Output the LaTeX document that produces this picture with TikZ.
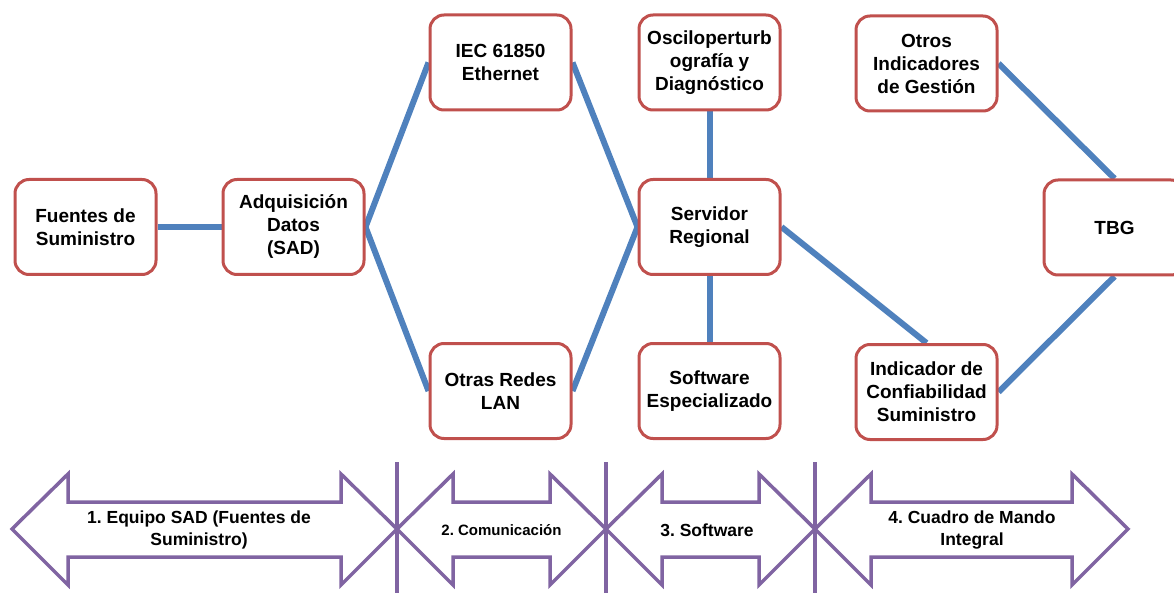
\documentclass[tikz,border=0pt]{standalone}
\usepackage{fontspec}
\setmainfont{Liberation Sans}
\usetikzlibrary{backgrounds}
\frenchspacing
\definecolor{boxred}{HTML}{C0504D}
\definecolor{linkblue}{HTML}{4F81BD}
\definecolor{bandpurple}{HTML}{8064A2}
% double-headed band arrow between two x positions, centred on y = 529
\newcommand\bandarrow[2]{%
  \draw[band] (#1,529) -- (#1+56,474) -- (#1+56,502) -- (#2-56,502) -- (#2-56,474)
    -- (#2,529) -- (#2-56,585) -- (#2-56,557) -- (#1+56,557) -- (#1+56,585) -- cycle;}
\begin{document}
\begin{tikzpicture}[x=1pt,y=-1pt,
  box/.style={draw=boxred, line width=3pt, fill=white, rounded corners=14pt,
    minimum width=141pt, minimum height=95pt, align=center, inner sep=2pt,
    font=\fontsize{19}{23}\selectfont\bfseries},
  link/.style={draw=linkblue, line width=6pt},
  band/.style={draw=bandpurple, line width=3.5pt, fill=white, line join=miter},
  divider/.style={draw=bandpurple, line width=4pt},
  bandtext/.style={align=center, inner sep=0pt, font=\fontsize{17.5}{22}\selectfont\bfseries}]
\clip (0,0) rectangle (1174,593);
\useasboundingbox (0,0) rectangle (1174,593);

% blocks
\node[box] (fuentes) at (85.5,227) {Fuentes de\\Suministro};
\node[box] (adq) at (293.5,227) {Adquisición\\Datos\\(SAD)};
\node[box] (iec) at (500.5,62.5) {IEC 61850\\Ethernet};
\node[box] (lan) at (500.5,391) {Otras Redes\\LAN};
\node[box] (osc) at (709.5,62.5) {Osciloperturb\\ografía y\\Diagnóstico};
\node[box] (serv) at (709.5,227) {Servidor\\Regional};
\node[box] (soft) at (709.5,391) {Software\\Especializado};
\node[box] (otros) at (926.5,63.5) {Otros\\Indicadores\\de Gestión};
\node[box] (tbg) at (1114.5,227.5) {TBG};
\node[box] (conf) at (926.5,392) {Indicador de\\Confiabilidad\\Suministro};

% links behind the blocks
\begin{scope}[on background layer]
\draw[link] (fuentes.east) -- (adq.west);
\draw[link] (adq.east) -- (iec.west);
\draw[link] (adq.east) -- (lan.west);
\draw[link] (iec.east) -- (serv.west);
\draw[link] (lan.east) -- (serv.west);
\draw[link] (osc.south) -- (serv.north);
\draw[link] (serv.south) -- (soft.north);
\draw[link] (serv.east) -- (conf.north);
\draw[link] (otros.east) -- (tbg.north);
\draw[link] (conf.east) -- (tbg.south);
\end{scope}

% stage bands
\bandarrow{12}{397}
\bandarrow{397}{606}
\bandarrow{606}{815}
\bandarrow{815}{1128}
\coordinate (d1t) at (397,462); \coordinate (d1b) at (397,600);
\coordinate (d2t) at (606,462); \coordinate (d2b) at (606,600);
\coordinate (d3t) at (815,462); \coordinate (d3b) at (815,600);
\draw[divider] (d1t) -- (d1b);
\draw[divider] (d2t) -- (d2b);
\draw[divider] (d3t) -- (d3b);

\node[bandtext] (s1) at (199,530) {1. Equipo SAD (Fuentes de\\Suministro)};
\node[bandtext, font=\fontsize{15}{18}\selectfont\bfseries] (s2) at (501.5,530) {2. Comunicación};
\node[bandtext] (s3) at (707,530) {3. Software};
\node[bandtext] (s4) at (972,530) {4. Cuadro de Mando\\Integral};
\end{tikzpicture}
\end{document}
